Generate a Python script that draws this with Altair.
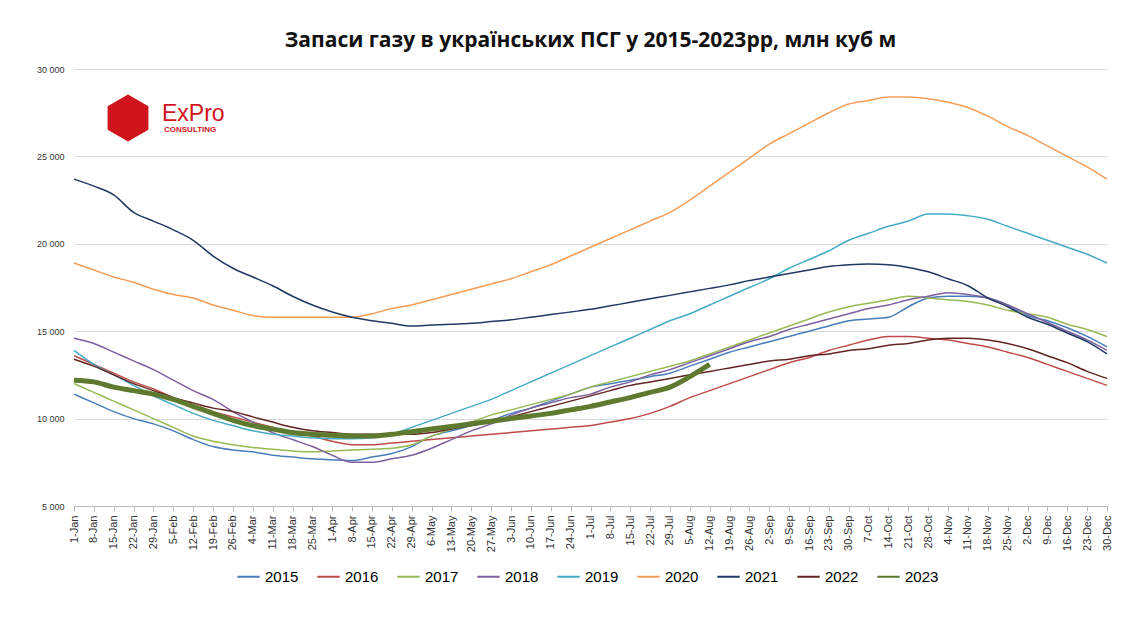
import pandas as pd
import altair as alt

weeks = ["1-Jan", "8-Jan", "15-Jan", "22-Jan", "29-Jan", "5-Feb", "12-Feb", "19-Feb", "26-Feb",
         "4-Mar", "11-Mar", "18-Mar", "25-Mar", "1-Apr", "8-Apr", "15-Apr", "22-Apr", "29-Apr",
         "6-May", "13-May", "20-May", "27-May", "3-Jun", "10-Jun", "17-Jun", "24-Jun", "1-Jul",
         "8-Jul", "15-Jul", "22-Jul", "29-Jul", "5-Aug", "12-Aug", "19-Aug", "26-Aug", "2-Sep",
         "9-Sep", "16-Sep", "23-Sep", "30-Sep", "7-Oct", "14-Oct", "21-Oct", "28-Oct", "4-Nov",
         "11-Nov", "18-Nov", "25-Nov", "2-Dec", "9-Dec", "16-Dec", "23-Dec", "30-Dec"]

y2015 = [11400, 10900, 10400, 10000, 9700, 9300, 8800, 8400, 8200, 8100, 7900, 7800, 7700, 7650, 7600, 7800, 8000, 8400,
         9000, 9300, 9600, 9900, 10300, 10600, 11000, 11400, 11800, 12000, 12200, 12400, 12600, 13000, 13400, 13800, 14100,
         14400, 14700, 15000, 15300, 15600, 15700, 15800, 16400, 16900, 17000, 17000, 16900, 16500, 15900, 15600, 15200, 14700, 14100]
y2016 = [13600, 13100, 12600, 12100, 11700, 11200, 10800, 10400, 10100, 9800, 9500, 9200, 9000, 8700, 8500, 8500, 8600, 8700,
         8800, 8900, 9000, 9100, 9200, 9300, 9400, 9500, 9600, 9800, 10000, 10300, 10700, 11200, 11600, 12000, 12400,
         12800, 13200, 13500, 13900, 14200, 14500, 14700, 14700, 14600, 14500, 14300, 14100, 13800, 13500, 13100, 12700, 12300, 11900]
y2017 = [12000, 11500, 11000, 10500, 10000, 9500, 9000, 8700, 8500, 8350, 8250, 8150, 8100, 8150, 8200, 8250, 8300, 8500,
         9000, 9400, 9800, 10200, 10500, 10800, 11100, 11400, 11800, 12100, 12400, 12700, 13000, 13300, 13700, 14100, 14500,
         14900, 15300, 15700, 16100, 16400, 16600, 16800, 17000, 16900, 16800, 16700, 16500, 16200, 16000, 15800, 15400, 15100, 14700]
y2018 = [14600, 14300, 13800, 13300, 12800, 12200, 11600, 11100, 10400, 9800, 9200, 8800, 8400, 7900, 7500, 7500, 7700, 7900,
         8300, 8800, 9300, 9700, 10200, 10600, 10900, 11200, 11400, 11800, 12100, 12500, 12800, 13200, 13600, 14000, 14400,
         14700, 15100, 15400, 15700, 16000, 16300, 16500, 16800, 17000, 17200, 17100, 16900, 16500, 16000, 15500, 15000, 14500, 13900]
y2019 = [13900, 13100, 12500, 11900, 11300, 10800, 10300, 9900, 9600, 9300, 9100, 9000, 8900, 8850, 8850, 8900, 9100, 9500,
         9900, 10300, 10700, 11100, 11600, 12100, 12600, 13100, 13600, 14100, 14600, 15100, 15600, 16000, 16500, 17000, 17500,
         18000, 18600, 19100, 19600, 20200, 20600, 21000, 21300, 21700, 21700, 21600, 21400, 21000, 20600, 20200, 19800, 19400, 18900]
y2020 = [18900, 18500, 18100, 17800, 17400, 17100, 16900, 16500, 16200, 15900, 15800, 15800, 15800, 15800, 15800, 16000, 16300, 16500,
         16800, 17100, 17400, 17700, 18000, 18400, 18800, 19300, 19800, 20300, 20800, 21300, 21800, 22500, 23300, 24100, 24900,
         25700, 26300, 26900, 27500, 28000, 28200, 28400, 28400, 28300, 28100, 27800, 27300, 26700, 26200, 25600, 25000, 24400, 23700]
y2021 = [23700, 23300, 22800, 21800, 21300, 20800, 20200, 19300, 18600, 18100, 17600, 17000, 16500, 16100, 15800, 15600, 15450, 15300,
         15350, 15400, 15450, 15550, 15650, 15800, 15950, 16100, 16250, 16450, 16650, 16850, 17050, 17250, 17450, 17650, 17900,
         18100, 18300, 18500, 18700, 18800, 18850, 18800, 18650, 18400, 18000, 17600, 16900, 16400, 15800, 15400, 14900, 14400, 13700]
y2022 = [13400, 13000, 12500, 12000, 11600, 11200, 10900, 10600, 10400, 10100, 9800, 9500, 9300, 9200, 9100, 9100, 9100, 9100,
         9200, 9400, 9600, 9800, 10100, 10400, 10700, 11000, 11300, 11600, 11900, 12100, 12300, 12500, 12700, 12900, 13100,
         13300, 13400, 13600, 13700, 13900, 14000, 14200, 14300, 14500, 14600, 14600, 14500, 14300, 14000, 13600, 13200, 12700, 12300]
y2023 = [12200, 12100, 11800, 11600, 11400, 11100, 10700, 10300, 9900, 9600, 9400, 9200, 9100, 9050, 9000, 9000, 9100, 9250,
         9400, 9550, 9700, 9850, 10000, 10150, 10300, 10500, 10700, 10950, 11200, 11500, 11800, 12400, 13100]

years = ["2015", "2016", "2017", "2018", "2019", "2020", "2021", "2022", "2023"]
series = [y2015, y2016, y2017, y2018, y2019, y2020, y2021, y2022, y2023]
colors = ["#4a7ebb", "#be4b48", "#98b954", "#7d60a0", "#46aac5", "#f59d56", "#1f3864", "#632523", "#5e7a2e"]

rows = []
for yr, vals in zip(years, series):
    for i, v in enumerate(vals):
        rows.append({"week": weeks[i], "idx": i, "year": yr, "value": v})
df = pd.DataFrame(rows)

lines = alt.Chart(df).mark_line(interpolate="monotone").encode(
    x=alt.X("week:O", sort=weeks, title=None,
            scale=alt.Scale(type="point", padding=0),
            axis=alt.Axis(labelAngle=-90, labelFontSize=11, labelColor="#333", domainColor="#bbb",
                          tickColor="#bbb", labelPadding=4, labelFont="Liberation Sans")),
    y=alt.Y("value:Q", title=None, scale=alt.Scale(domain=[5000, 30000]),
            axis=alt.Axis(values=[5000, 10000, 15000, 20000, 25000, 30000], domain=False, ticks=False,
                          gridColor="#d9d9d9", labelFontSize=9, labelColor="#333", labelPadding=10,
                          labelExpr="replace(format(datum.value, ','), ',', ' ')")),
    color=alt.Color("year:N", scale=alt.Scale(domain=years, range=colors), title=None,
                    legend=alt.Legend(orient="none", direction="horizontal", legendX=162, legendY=495,
                                      symbolType="stroke", symbolSize=500, labelFontSize=15, symbolStrokeWidth=2,
                                      labelFont="Liberation Sans", columnPadding=14)),
    strokeWidth=alt.condition(alt.datum.year == "2023", alt.value(5), alt.value(1.5)),
    order="idx:Q",
)

hexagon = "M0,-1L0.87,-0.5L0.87,0.5L0,1L-0.87,0.5L-0.87,-0.5Z"
logo_df = pd.DataFrame({"t": ["logo"]})
logo_hex = alt.Chart(logo_df).mark_point(shape=hexagon, filled=True, color="#d0141e", size=2200, opacity=1).encode(
    x=alt.value(54), y=alt.value(49))
logo_txt = alt.Chart(logo_df).mark_text(text="ExPro", color="#d0141e", fontSize=23, align="left",
                                        font="Liberation Sans").encode(x=alt.value(88), y=alt.value(45))
logo_sub = alt.Chart(logo_df).mark_text(text="CONSULTING", color="#d0141e", fontSize=8, fontWeight="bold",
                                        align="left", font="Liberation Sans").encode(x=alt.value(90), y=alt.value(61))

chart = (lines + logo_hex + logo_txt + logo_sub).properties(
    width=1033, height=437,
    autosize=alt.AutoSizeParams(type="none"),
    padding={"left": 66, "top": 61, "right": 30, "bottom": 100},
    title=alt.TitleParams("Запаси газу в українських ПСГ у 2015-2023рр, млн куб м", fontSize=21,
                          font="Open Sans", fontWeight="bold", color="#111", offset=14, anchor="middle"),
).configure_view(stroke=None)

chart.save("out.html", embed_options={"renderer": "svg", "actions": False})
